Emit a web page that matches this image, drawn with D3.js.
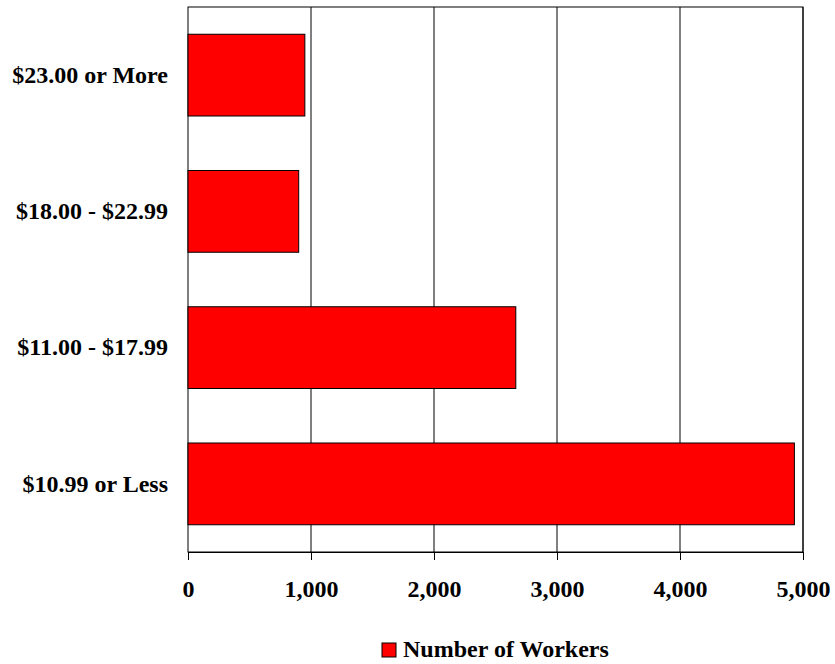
<!DOCTYPE html>
<html>
<head>
<meta charset="utf-8">
<script src="https://cdn.jsdelivr.net/npm/d3@7"></script>
<style>
  body { margin: 0; background: #fff; }
  text { font-family: "Liberation Serif", "Times New Roman", serif; font-weight: bold; fill: #000; }
</style>
</head>
<body>
<svg id="chart"></svg>
<script>
const categories = ["$23.00 or More", "$18.00 - $22.99", "$11.00 - $17.99", "$10.99 or Less"];
const workers = [950, 900, 2665, 4930];
const xTicks = [0, 1000, 2000, 3000, 4000, 5000];
const seriesName = "Number of Workers";

const width = 835, height = 664;
const plot = { left: 188, right: 803, top: 7, bottom: 552 };
const fontSize = 24;

const svg = d3.select("#chart")
  .attr("width", width)
  .attr("height", height);

const x = d3.scaleLinear().domain([0, 5000]).range([plot.left, plot.right]);
const y = d3.scaleBand().domain(categories).range([plot.top, plot.bottom])
  .paddingInner(0.4).paddingOuter(0.2);

// cadre du graphique
svg.append("rect")
  .attr("x", plot.left).attr("y", plot.top)
  .attr("width", plot.right - plot.left).attr("height", plot.bottom - plot.top)
  .attr("fill", "none").attr("stroke", "#000").attr("stroke-width", 1);

// grille
svg.append("g")
  .selectAll("line")
  .data(xTicks.slice(1))
  .join("line")
  .attr("x1", d => x(d)).attr("x2", d => x(d))
  .attr("y1", plot.top).attr("y2", plot.bottom)
  .attr("stroke", "#000").attr("stroke-width", 1);

// barres
svg.append("g")
  .selectAll("rect")
  .data(categories)
  .join("rect")
  .attr("x", x(0))
  .attr("y", d => y(d))
  .attr("width", (d, i) => x(workers[i]) - x(0))
  .attr("height", y.bandwidth())
  .attr("fill", "#ff0000")
  .attr("stroke", "#000")
  .attr("stroke-width", 1);

// axe x
const xAxis = d3.axisBottom(x)
  .tickValues(xTicks)
  .tickSize(8)
  .tickPadding(20)
  .tickFormat(d3.format(","));

svg.append("g")
  .attr("transform", `translate(0,${plot.bottom})`)
  .call(xAxis)
  .call(g => g.select(".domain").attr("stroke", "#000"))
  .call(g => g.selectAll(".tick line").attr("stroke", "#000"))
  .call(g => g.selectAll("text")
    .attr("font-size", fontSize)
    .attr("font-family", "Liberation Serif, serif")
    .attr("font-weight", "bold")
    .attr("fill", "#000"));

// étiquettes y
const yAxis = d3.axisLeft(y).tickSize(0).tickPadding(20);
svg.append("g")
  .attr("transform", `translate(${plot.left},0)`)
  .call(yAxis)
  .call(g => g.select(".domain").remove())
  .call(g => g.selectAll("text")
    .attr("font-size", fontSize)
    .attr("font-family", "Liberation Serif, serif")
    .attr("font-weight", "bold")
    .attr("fill", "#000"));

// légende
const legend = svg.append("g").attr("transform", "translate(382,643)");
legend.append("rect")
  .attr("width", 14).attr("height", 14)
  .attr("fill", "#ff0000").attr("stroke", "#000");
legend.append("text")
  .attr("x", 21).attr("y", 14)
  .attr("font-size", fontSize)
  .text(seriesName);
</script>
</body>
</html>
